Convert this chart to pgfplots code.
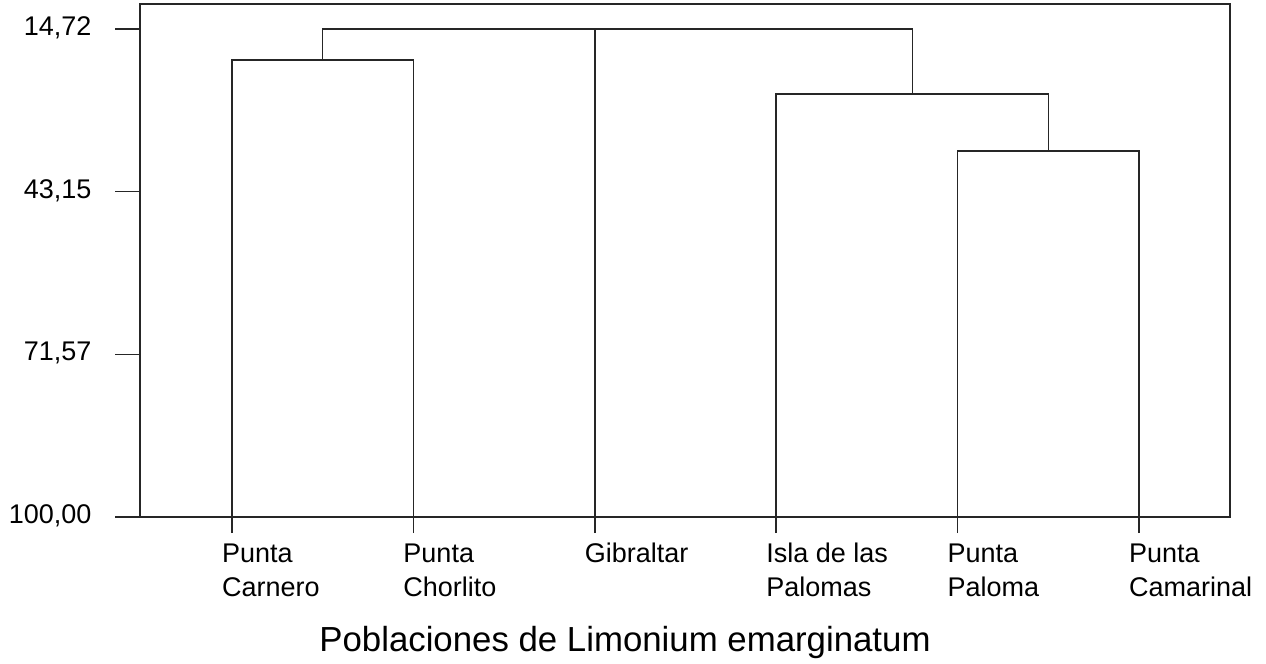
\documentclass[border=0pt]{standalone}
\usepackage{fontspec}
\setmainfont{Liberation Sans}
\usepackage{pgfplots}
\pgfplotsset{compat=1.18}
\begin{document}
\begin{tikzpicture}
\begin{axis}[name=ax,
  scale only axis, width=545pt, height=256.5pt,
  xmin=0.4928, xmax=6.5017, ymin=10.35, ymax=100, y dir=reverse,
  axis line style={black!85, line width=0.75pt},
  tick align=outside, tick pos=left,
  xtick={1,2,3,4,5,6},
  xticklabels={Punta\\Carnero, Punta\\Chorlito, Gibraltar, Isla de las\\Palomas, Punta\\Paloma, Punta\\Camarinal},
  ytick={14.72,43.15,71.57,100},
  yticklabels={{14,72},{43,15},{71,57},{100,00}},
  typeset ticklabels with strut,
  x tick style={/pgfplots/major tick length=8pt, black!85, line width=0.75pt},
  y tick style={/pgfplots/major tick length=12.5pt, black!85, line width=0.75pt},
  xticklabel style={font=\fontsize{13.5}{17}\selectfont, align=left, anchor=north west, xshift=-8.5pt, yshift=-3pt},
  yticklabel style={font=\fontsize{13.5}{16}\selectfont, xshift=-16.5pt},
  xlabel={Poblaciones de Limonium emarginatum},
  xlabel style={font=\fontsize{17.4}{20}\selectfont, xshift=-30pt, yshift=-8pt},
  /pgf/number format/assume math mode=true,
]
\addplot[black!85, line width=0.75pt] coordinates {(1,100) (1,20.14) (2,20.14) (2,100)};
\addplot[black!85, line width=0.75pt] coordinates {(5,100) (5,36.04) (6,36.04) (6,100)};
\addplot[black!85, line width=0.75pt] coordinates {(4,100) (4,26.08) (5.5,26.08) (5.5,36.04)};
\addplot[black!85, line width=0.75pt] coordinates {(1.5,20.14) (1.5,14.72) (4.75,14.72) (4.75,26.08)};
\addplot[black!85, line width=0.75pt] coordinates {(3,100) (3,14.72)};
\end{axis}
\pgfresetboundingbox
\path[use as bounding box] ([xshift=-70pt,yshift=-73pt]ax.south west) rectangle ([xshift=18pt,yshift=2pt]ax.north east);
\end{tikzpicture}
\end{document}
